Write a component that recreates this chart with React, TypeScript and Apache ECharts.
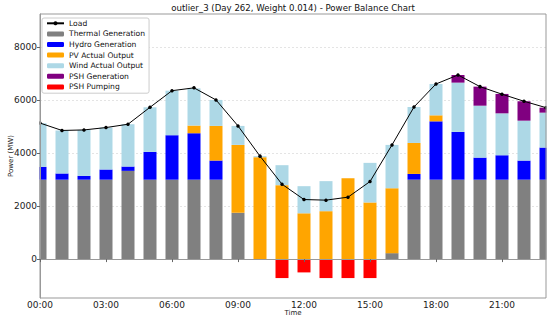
import React, { useEffect, useRef } from "react";
import * as echarts from "echarts";

const hours = ["00:00","01:00","02:00","03:00","04:00","05:00","06:00","07:00","08:00","09:00","10:00","11:00","12:00","13:00","14:00","15:00","16:00","17:00","18:00","19:00","20:00","21:00","22:00","23:00"];
const load = [5140,4860,4880,4970,5095,5736,6363,6470,6013,5032,3890,2830,2250,2227,2340,2930,4314,5747,6617,6956,6516,6230,5963,5722];
const thermal = [3000,3000,3000,3000,3334,3000,3000,3000,3000,1750,0,0,0,0,0,0,225,3000,3000,3000,3000,3000,3000,3000];
const hydro = [485,235,145,385,163,1050,1680,1755,724,0,0,0,0,0,0,0,0,218,2205,1805,834,923,722,1214];
const pv = [0,0,0,0,0,0,0,290,1308,2565,3850,2793,1730,1810,3057,2139,2452,1170,227,0,0,0,0,0];
const wind = [1647,1623,1736,1585,1598,1685,1683,1405,981,717,40,755,1025,1135,0,1497,1637,1359,1185,1862,1962,1584,1508,1319];
const pshGen = [0,0,0,0,0,0,0,0,0,0,0,0,0,0,0,0,0,0,0,289,720,733,733,189];
const pshPump = [0,0,0,0,0,0,0,0,0,0,0,-717,-503,-717,-717,-717,0,0,0,0,0,0,0,0];
const yTicks = [0, 2000, 4000, 6000, 8000];

const FONT = "DejaVu Sans";
const GRID = { left: 40, right: 4, top: 14, bottom: 25 };
const W = 550;
const H = 323;

export default function App() {
  const ref = useRef<HTMLDivElement>(null);
  useEffect(() => {
    if (!ref.current) return;
    const chart = echarts.init(ref.current, undefined, { renderer: "svg" });
    const bar = (name: string, data: number[], color: string, extra: any = {}) => ({
      name,
      type: "bar",
      stack: "total",
      stackStrategy: "samesign",
      data,
      barWidth: 13,
      itemStyle: { color },
      clip: true,
      ...extra,
    });
    const plotH = H - GRID.top - GRID.bottom;
    chart.setOption({
      animation: false,
      textStyle: { fontFamily: FONT },
      title: {
        text: "outlier_3 (Day 262, Weight 0.014) - Power Balance Chart",
        left: 293,
        textAlign: "center",
        top: 3,
        padding: 0,
        textStyle: { fontSize: 8.6, fontWeight: "normal", color: "#111", fontFamily: FONT },
      },
      legend: {
        orient: "vertical",
        left: 42,
        top: 18,
        z: 20,
        itemWidth: 17,
        itemHeight: 5,
        itemGap: 0,
        padding: [0, 4, 1, 4],
        borderColor: "#ccc",
        borderWidth: 1,
        borderRadius: 2,
        backgroundColor: "#fff",
        textStyle: { fontSize: 7.6, lineHeight: 10.6, color: "#111", fontFamily: FONT },
        data: ["Load","Thermal Generation","Hydro Generation","PV Actual Output","Wind Actual Output","PSH Generation","PSH Pumping"],
      },
      graphic: [
        {
          type: "rect",
          z: 5,
          silent: true,
          shape: { x: 0, y: GRID.top - 1, width: GRID.left - 0.5, height: plotH + 2 },
          style: { fill: "#fff" },
        },
        {
          type: "rect",
          z: 5,
          silent: true,
          shape: { x: W - GRID.right + 0.5, y: GRID.top - 1, width: GRID.right, height: plotH + 2 },
          style: { fill: "#fff" },
        },
      ],
      grid: { ...GRID, show: true, borderColor: "#999", borderWidth: 1, outerBoundsMode: "none", containLabel: false, z: 8 },
      xAxis: {
        type: "category",
        data: hours,
        boundaryGap: false,
        z: 10,
        name: "Time",
        nameLocation: "middle",
        nameGap: 11.5,
        nameMoveOverlap: false,
        nameTextStyle: { fontSize: 7, color: "#222", fontFamily: FONT },
        axisLine: { lineStyle: { color: "#999" } },
        axisTick: { interval: 2, length: 3, lineStyle: { color: "#666" } },
        axisLabel: { interval: 2, fontSize: 9, color: "#222", margin: 2, fontFamily: FONT },
        splitLine: { show: false },
      },
      yAxis: {
        type: "value",
        min: -1470,
        max: 9260,
        z: 10,
        name: "Power (MW)",
        nameLocation: "middle",
        nameGap: 26,
        nameMoveOverlap: false,
        nameTextStyle: { fontSize: 7, color: "#222", fontFamily: FONT },
        axisLine: { show: true, lineStyle: { color: "#999" } },
        axisTick: { show: true, length: 3, customValues: yTicks, lineStyle: { color: "#666" } },
        axisLabel: { fontSize: 9, color: "#222", margin: 3, customValues: yTicks, fontFamily: FONT, formatter: (v: number) => String(v) },
        splitLine: { show: false },
      },
      series: [
        bar("Thermal Generation", thermal, "#808080", {
          markLine: {
            silent: true,
            symbol: "none",
            z: 1,
            label: { show: false },
            lineStyle: { color: "#ddd", type: [2, 2], width: 0.8 },
            data: yTicks.map((v) => ({ yAxis: v })),
          },
        }),
        bar("Hydro Generation", hydro, "#0000ff"),
        bar("PV Actual Output", pv, "#ffa500"),
        bar("Wind Actual Output", wind, "#add8e6"),
        bar("PSH Generation", pshGen, "#800080"),
        bar("PSH Pumping", pshPump, "#ff0000"),
        {
          name: "Load",
          type: "line",
          data: load,
          z: 4,
          symbol: "circle",
          symbolSize: 3.5,
          itemStyle: { color: "#000" },
          lineStyle: { color: "#000", width: 1 },
        },
      ],
    });
    return () => chart.dispose();
  }, []);
  return <div ref={ref} style={{ position: "absolute", left: 0, top: 0, width: W, height: H }} />;
}
